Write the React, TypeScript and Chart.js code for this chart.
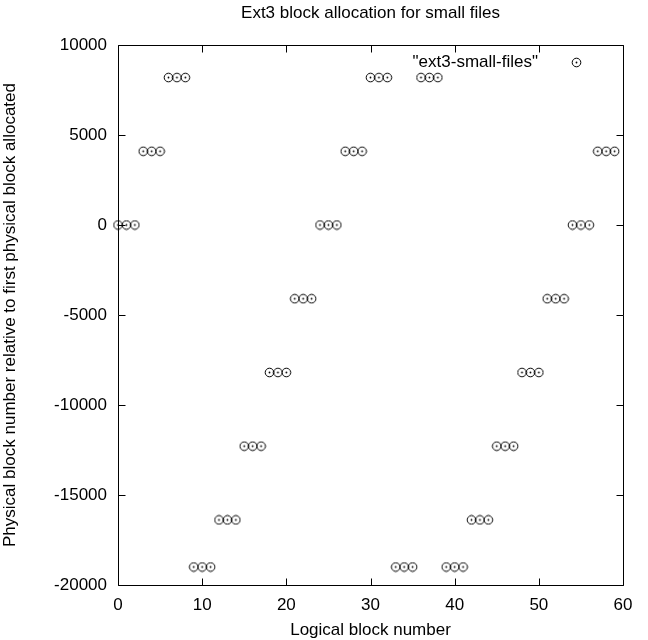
import React, { useEffect, useRef } from "react";
import { Chart, registerables } from "chart.js";

Chart.register(...registerables);

const chartTitle = "Ext3 block allocation for small files";
const xAxisTitle = "Logical block number";
const yAxisTitle = "Physical block number relative to first physical block allocated";
const seriesLabel = '"ext3-small-files"';

const logicalBlocks = [
  0, 1, 2, 3, 4, 5, 6, 7, 8, 9, 10, 11, 12, 13, 14, 15, 16, 17, 18, 19,
  20, 21, 22, 23, 24, 25, 26, 27, 28, 29, 30, 31, 32, 33, 34, 35, 36, 37, 38, 39,
  40, 41, 42, 43, 44, 45, 46, 47, 48, 49, 50, 51, 52, 53, 54, 55, 56, 57, 58, 59,
];

const physicalOffsets = [
  0, 0, 0,
  4096, 4096, 4096,
  8192, 8192, 8192,
  -19000, -19000, -19000,
  -16384, -16384, -16384,
  -12288, -12288, -12288,
  -8192, -8192, -8192,
  -4096, -4096, -4096,
  0, 0, 0,
  4096, 4096, 4096,
  8192, 8192, 8192,
  -19000, -19000, -19000,
  8192, 8192, 8192,
  -19000, -19000, -19000,
  -16384, -16384, -16384,
  -12288, -12288, -12288,
  -8192, -8192, -8192,
  -4096, -4096, -4096,
  0, 0, 0,
  4096, 4096, 4096,
];

const xMin = 0;
const xMax = 60;
const xStep = 10;
const yMin = -20000;
const yMax = 10000;
const yStep = 5000;

const FONT = "'Liberation Sans', Arial, Helvetica, sans-serif";

function makePointImage(): HTMLCanvasElement {
  const c = document.createElement("canvas");
  c.width = 11;
  c.height = 11;
  const g = c.getContext("2d")!;
  g.strokeStyle = "#000";
  g.lineWidth = 1;
  g.beginPath();
  g.arc(5.5, 5.5, 4.3, 0, Math.PI * 2);
  g.stroke();
  g.fillStyle = "#000";
  g.beginPath();
  g.arc(5.5, 5.5, 0.9, 0, Math.PI * 2);
  g.fill();
  return c;
}

export default function App() {
  const ref = useRef<HTMLCanvasElement | null>(null);

  useEffect(() => {
    if (!ref.current) return;
    const pointImg = makePointImage();

    const framePlugin = {
      id: "gnuplotFrame",
      beforeDatasetsDraw(chart: any) {
        const { ctx, chartArea } = chart;
        const { left, right, top, bottom } = chartArea;
        const L = Math.round(left) + 0.5;
        const R = Math.round(right) + 0.5;
        const T = Math.round(top) + 0.5;
        const B = Math.round(bottom) + 0.5;
        const tick = 7;
        ctx.save();
        ctx.strokeStyle = "#000";
        ctx.lineWidth = 1;
        ctx.beginPath();
        ctx.rect(L, T, R - L, B - T);
        const xs = chart.scales.x;
        xs.ticks.forEach((t: any) => {
          const px = Math.round(xs.getPixelForValue(t.value)) + 0.5;
          ctx.moveTo(px, B);
          ctx.lineTo(px, B - tick);
          ctx.moveTo(px, T);
          ctx.lineTo(px, T + tick);
        });
        const ys = chart.scales.y;
        ys.ticks.forEach((t: any) => {
          const py = Math.round(ys.getPixelForValue(t.value)) + 0.5;
          ctx.moveTo(L, py);
          ctx.lineTo(L + tick, py);
          ctx.moveTo(R, py);
          ctx.lineTo(R - tick, py);
        });
        ctx.stroke();

        // key (legend) in gnuplot style, top right inside the plot
        const label = chart.data.datasets[0].label;
        const ky = top + 17;
        ctx.fillStyle = "#000";
        ctx.font = `17px ${FONT}`;
        ctx.textAlign = "right";
        ctx.textBaseline = "middle";
        ctx.fillText(label, right - 85, ky);
        ctx.drawImage(pointImg, Math.round(right - 47) - 5.5 + 0.5, Math.round(ky) - 5.5 + 0.5);
        ctx.restore();
      },
    };

    const chart = new Chart(ref.current, {
      type: "scatter",
      data: {
        datasets: [
          {
            label: seriesLabel,
            data: logicalBlocks.map((x, i) => ({ x, y: physicalOffsets[i] })),
            pointStyle: pointImg as any,
            pointRadius: 5,
            showLine: false,
            clip: false,
          },
        ],
      },
      options: {
        animation: false,
        responsive: false,
        devicePixelRatio: 1,
        color: "#000",
        layout: { padding: { left: 0, right: 25, top: 0, bottom: 0 } },
        plugins: {
          legend: { display: false },
          tooltip: { enabled: false },
          title: {
            display: true,
            text: chartTitle,
            fullSize: false,
            color: "#000",
            font: { family: FONT, size: 17, weight: "normal" },
            padding: { top: 3, bottom: 21.6 },
          },
        },
        scales: {
          x: {
            type: "linear",
            min: xMin,
            max: xMax,
            grid: { display: false, drawTicks: false },
            border: { display: false },
            ticks: {
              stepSize: xStep,
              color: "#000",
              padding: 10,
              font: { family: FONT, size: 17 },
              callback: (v: any) => String(v),
            },
            title: {
              display: true,
              text: xAxisTitle,
              color: "#000",
              font: { family: FONT, size: 17 },
              padding: { top: 0, bottom: -1 },
            },
            afterFit: (s: any) => {
              s.height = 55;
            },
          },
          y: {
            type: "linear",
            min: yMin,
            max: yMax,
            grid: { display: false, drawTicks: false },
            border: { display: false },
            ticks: {
              stepSize: yStep,
              color: "#000",
              padding: 11,
              font: { family: FONT, size: 17 },
              callback: (v: any) => String(v),
            },
            title: {
              display: true,
              text: yAxisTitle,
              color: "#000",
              font: { family: FONT, size: 17 },
              padding: 0,
            },
            afterFit: (s: any) => {
              s.width = 118;
            },
          },
        },
      },
      plugins: [framePlugin],
    });

    return () => chart.destroy();
  }, []);

  return (
    <div style={{ position: "fixed", left: 0, top: 0, width: 648, height: 640, background: "#fff" }}>
      <canvas ref={ref} width={648} height={640} style={{ display: "block" }} />
    </div>
  );
}
